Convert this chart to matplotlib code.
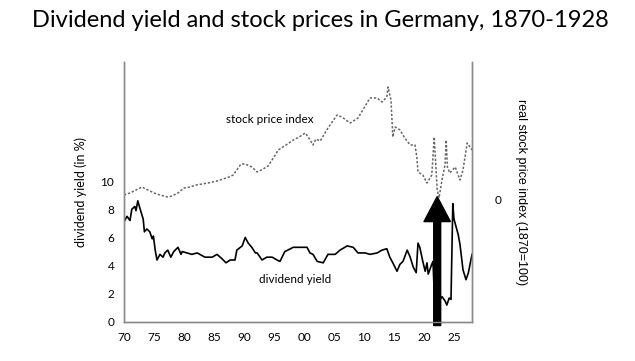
import matplotlib
matplotlib.use("Agg")
import matplotlib.pyplot as plt

# dividend yield in %
dy_years = [1870.0, 1870.5, 1871.0, 1871.3, 1871.8, 1872.0, 1872.3, 1872.7, 1873.2, 1873.4,
            1873.8, 1874.3, 1874.7, 1874.9, 1875.2, 1875.5, 1876.0, 1876.5, 1876.8, 1877.3,
            1877.8, 1878.3, 1879.0, 1879.5, 1879.7, 1880.5, 1881.3, 1882.2, 1883.5, 1884.7,
            1885.5, 1886.3, 1887.0, 1887.7, 1888.5, 1888.8, 1889.7, 1890.2, 1890.7, 1891.3,
            1891.9, 1892.2, 1893.0, 1893.8, 1894.7, 1895.5, 1896.0, 1896.8, 1897.3, 1898.2,
            1899.3, 1900.5, 1901.0, 1901.5, 1902.2, 1903.2, 1904.0, 1905.2, 1906.0, 1907.2,
            1908.2, 1909.0, 1910.2, 1911.0, 1912.2, 1913.0, 1913.8, 1914.3, 1914.8, 1915.5,
            1916.0, 1916.5, 1917.2, 1917.7, 1918.2, 1918.7, 1919.0, 1919.3, 1919.8, 1920.2,
            1920.5, 1920.7, 1921.3, 1921.5, 1921.7, 1922.0, 1922.5, 1923.0, 1923.5, 1923.8,
            1924.2, 1924.5, 1924.8, 1925.0, 1925.7, 1926.0, 1926.5, 1927.0, 1927.4, 1928.0]
dy_values = [7.1, 7.5, 7.2, 8.0, 8.2, 7.9, 8.6, 8.0, 7.3, 6.4,
             6.6, 6.4, 5.9, 6.1, 5.1, 4.4, 4.8, 4.6, 4.9, 5.1,
             4.6, 5.0, 5.3, 4.8, 5.0, 4.9, 4.8, 4.9, 4.6, 4.6,
             4.8, 4.5, 4.2, 4.4, 4.4, 5.1, 5.4, 6.0, 5.6, 5.3,
             4.9, 4.9, 4.4, 4.6, 4.6, 4.4, 4.3, 5.0, 5.1, 5.3,
             5.3, 5.3, 4.9, 4.8, 4.3, 4.2, 4.8, 4.8, 5.1, 5.4,
             5.3, 4.9, 4.9, 4.8, 4.9, 5.1, 5.2, 4.6, 4.2, 3.6,
             4.1, 4.3, 5.1, 4.6, 3.9, 3.5, 5.6, 5.3, 4.3, 3.6,
             4.2, 3.4, 4.1, 4.3, 2.1, 2.0, 1.5, 1.8, 1.5, 1.2,
             1.7, 1.6, 8.4, 7.3, 6.2, 5.5, 3.7, 3.0, 3.5, 4.8]

# real stock price index, relative to the right-hand zero line
sp_years = [1870.0, 1871.0, 1872.0, 1873.0, 1874.0, 1875.0, 1876.0, 1877.3, 1878.0, 1879.0,
            1880.0, 1881.0, 1882.0, 1884.0, 1885.5, 1887.5, 1888.2, 1889.5, 1890.2, 1891.3,
            1892.2, 1893.2, 1894.0, 1895.0, 1895.7, 1897.0, 1898.2, 1899.2, 1900.2, 1900.7,
            1901.5, 1902.0, 1902.7, 1904.0, 1905.5, 1906.3, 1907.0, 1907.7, 1909.0, 1910.2,
            1911.0, 1912.2, 1913.0, 1913.8, 1914.0, 1914.5, 1914.8, 1915.2, 1916.0, 1916.8,
            1917.7, 1918.5, 1918.8, 1919.0, 1919.8, 1920.5, 1921.3, 1921.7, 1922.2, 1922.5,
            1923.0, 1923.5, 1923.7, 1923.9, 1924.3, 1925.2, 1926.0, 1926.5, 1927.2, 1928.0]
sp_values = [4, 6, 9, 12, 9, 6, 4, 2, 3, 6,
             11, 12, 14, 16, 18, 22, 24, 35, 35, 32,
             27, 30, 33, 42, 49, 54, 59, 62, 66, 62,
             54, 60, 58, 71, 84, 82, 79, 76, 81, 93,
             101, 101, 97, 102, 112, 99, 62, 72, 69, 61,
             54, 54, 42, 27, 24, 16, 24, 62, 9, 1,
             19, 34, 59, 32, 26, 32, 19, 29, 56, 49]

xticks = list(range(1870, 1930, 5))
xticklabels = ["%02d" % (y % 100) for y in xticks]

fig = plt.figure(figsize=(6.35, 3.61), dpi=100)
ax = fig.add_axes([124 / 635, 1 - 322 / 361, 348 / 635, 260 / 361])
ax2 = ax.twinx()

font = "Lato"

ax.plot(dy_years, dy_values, color="black", lw=1.2)
ax2.plot(sp_years, sp_values, color="#666666", lw=1.1, ls=(0, (1.5, 1.2)))

ax.set_xlim(1870, 1928)
ax.set_ylim(0, 18.45)
ax2.set_ylim(-123, 137)

ax.set_xticks(xticks)
ax.set_xticklabels(xticklabels, fontfamily=font, fontsize=8.5)
ax.set_yticks([0, 2, 4, 6, 8, 10])
ax.set_yticklabels(["0", "2", "4", "6", "8", "10"], fontfamily=font, fontsize=8.5)
ax2.set_yticks([0])
ax2.set_yticklabels(["0"], fontfamily=font, fontsize=8.5)

ax.tick_params(axis="both", length=0, pad=7)
ax2.tick_params(axis="y", length=0, pad=16)

for a in (ax, ax2):
    a.spines["top"].set_visible(False)
    for s in ("left", "bottom", "right"):
        a.spines[s].set_color("#8a8a8a")
        a.spines[s].set_linewidth(1.0)

ax.set_ylabel("dividend yield (in %)", fontfamily=font, fontsize=9, labelpad=10)
ax2.set_ylabel("real stock price index (1870=100)", fontfamily="Liberation Sans",
               fontsize=9, rotation=-90, labelpad=19)

ax.text(1894.3, 14.4, "stock price index", fontfamily=font, fontsize=8.5,
        ha="center", va="center")
ax.text(1898.5, 3.05, "dividend yield", fontfamily=font, fontsize=8.5,
        ha="center", va="center")

# the big black arrow marking the hyperinflation
ax.annotate("", xy=(1922.2, 8.9), xytext=(1922.2, -0.25), xycoords="data",
            arrowprops=dict(arrowstyle="simple,head_length=1.8,head_width=1.9,tail_width=0.5",
                            mutation_scale=10, color="black", shrinkA=0, shrinkB=0),
            annotation_clip=False)

fig.suptitle("Dividend yield and stock prices in Germany, 1870-1928",
             fontfamily=font, fontsize=17, x=0.505, y=0.972)

fig.savefig("out.png", dpi=100)
